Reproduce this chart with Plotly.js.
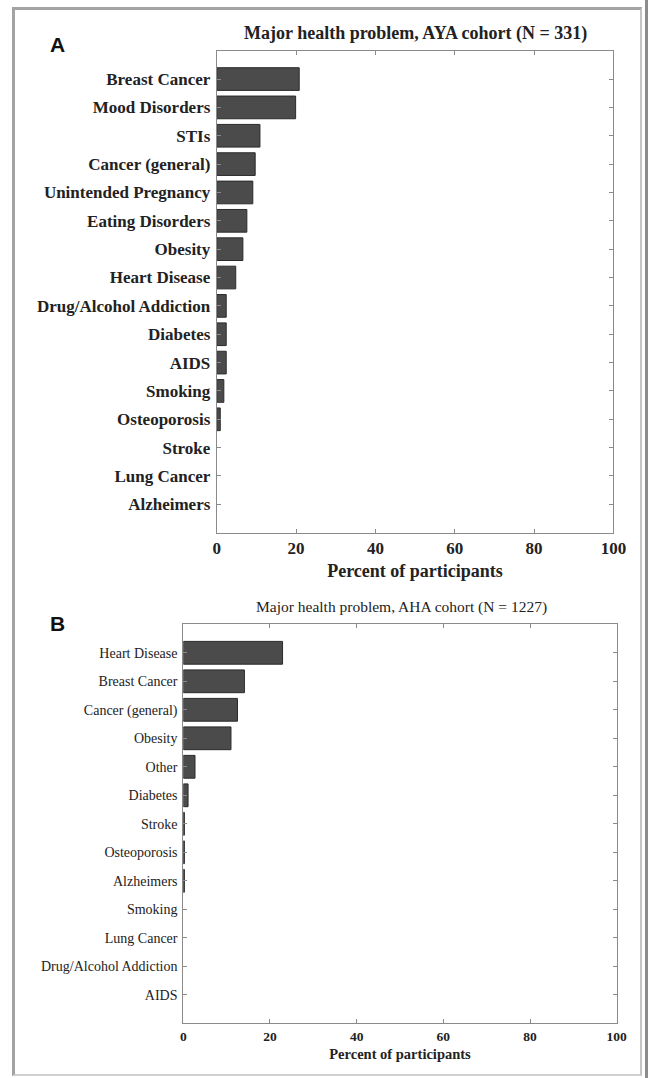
<!DOCTYPE html>
<html>
<head>
<meta charset="utf-8">
<script src="https://cdn.plot.ly/plotly-3.0.1.min.js"></script>
<style>
  html, body { margin: 0; padding: 0; background: #fff; }
  #wrap { position: relative; width: 648px; height: 1078px; overflow: hidden; }
  #chart { position: absolute; left: 0; top: 0; width: 648px; height: 1078px; }
  #frame { position: absolute; left: 12px; top: 7px; width: 630px; height: 1069px;
           border-left: 3px solid #a3a3a3; border-top: 3px solid #a3a3a3;
           border-right: 2px solid #c4c4c4; border-bottom: 2px solid #d0d0d0;
           box-sizing: border-box; pointer-events: none; }
  #edge { position: absolute; left: 645px; top: 0; width: 3px; height: 1078px; background: #8c8c8c; }
</style>
</head>
<body>
<div id="wrap">
  <div id="chart"></div>
  <div id="frame"></div>
  <div id="edge"></div>
</div>
<script>
// Panel A: AYA cohort (N = 331)
const ayaCategories = ["Breast Cancer", "Mood Disorders", "STIs", "Cancer (general)",
  "Unintended Pregnancy", "Eating Disorders", "Obesity", "Heart Disease",
  "Drug/Alcohol Addiction", "Diabetes", "AIDS", "Smoking", "Osteoporosis",
  "Stroke", "Lung Cancer", "Alzheimers"];
const ayaPercent = [20.8, 19.9, 10.9, 9.7, 9.1, 7.6, 6.6, 4.8, 2.4, 2.4, 2.4, 1.8, 0.9, 0, 0, 0];

// Panel B: AHA cohort (N = 1227)
const ahaCategories = ["Heart Disease", "Breast Cancer", "Cancer (general)", "Obesity",
  "Other", "Diabetes", "Stroke", "Osteoporosis", "Alzheimers", "Smoking",
  "Lung Cancer", "Drug/Alcohol Addiction", "AIDS"];
const ahaPercent = [22.9, 14.1, 12.5, 11.0, 2.7, 1.1, 0.25, 0.25, 0.25, 0, 0, 0, 0];

const xTickVals = [0, 20, 40, 60, 80, 100];
const titleA = "Major health problem, AYA cohort (N = 331)";
const titleB = "Major health problem, AHA cohort (N = 1227)";
const xTitle = "Percent of participants";

const W = 648, H = 1078;
const px = v => v / W;
const py = v => 1 - v / H;

const barFill = "#4b4b4b", barEdge = "#2b2b2b";
const serif = "Liberation Serif";
const axisCol = "#8a8a8a";
const edgeWidths = arr => arr.map(v => (v > 0 ? 1 : 0));

const traces = [
  { type: "bar", orientation: "h", x: ayaPercent, y: ayaCategories,
    xaxis: "x", yaxis: "y", width: 0.8,
    marker: { color: barFill, line: { color: barEdge, width: edgeWidths(ayaPercent) } }, hoverinfo: "x+y" },
  { type: "bar", orientation: "h", x: ahaPercent, y: ahaCategories,
    xaxis: "x2", yaxis: "y2", width: 0.8,
    marker: { color: barFill, line: { color: barEdge, width: edgeWidths(ahaPercent) } }, hoverinfo: "x+y" }
];

function xAxis(domain, anchor, fs, tfs, standoff) {
  return { domain: domain, anchor: anchor, range: [0, 100], tickvals: xTickVals,
    ticks: "inside", ticklen: 4, tickcolor: axisCol, showline: true, linecolor: axisCol,
    linewidth: 1, mirror: "ticks", showgrid: false, zeroline: false, fixedrange: true,
    tickfont: { family: serif, size: fs, color: "#222", weight: "bold" },
    title: { text: xTitle, standoff: standoff, font: { family: serif, size: tfs, color: "#222", weight: "bold" } } };
}
function yAxis(domain, anchor, cats, fs, weight) {
  return { domain: domain, anchor: anchor, type: "category", categoryorder: "array",
    categoryarray: cats, range: [cats.length, -1], ticks: "inside", ticklen: 4,
    tickcolor: axisCol, showline: true, linecolor: axisCol, linewidth: 1, mirror: "ticks",
    showgrid: false, zeroline: false, fixedrange: true, ticklabelstandoff: 2,
    tickfont: { family: serif, size: fs, color: "#222", weight: weight } };
}

const layout = {
  width: W, height: H, margin: { l: 0, r: 0, t: 0, b: 0 },
  paper_bgcolor: "#fff", plot_bgcolor: "#fff", showlegend: false, bargap: 0.2,
  xaxis: xAxis([px(216.7), px(613.4)], "y", 17, 18, 7),
  yaxis: yAxis([py(532.7), py(50.7)], "x", ayaCategories, 17, "bold"),
  xaxis2: xAxis([px(183.3), px(616.7)], "y2", 13.5, 14.5, 6),
  yaxis2: yAxis([py(1023.3), py(624.3)], "x2", ahaCategories, 14, "normal"),
  annotations: [
    { text: titleA, xref: "paper", yref: "paper", x: px(415), y: py(33), xanchor: "center",
      yanchor: "middle", showarrow: false, font: { family: serif, size: 18, color: "#222", weight: "bold" } },
    { text: titleB, xref: "paper", yref: "paper", x: px(401), y: py(607), xanchor: "center",
      yanchor: "middle", showarrow: false, font: { family: serif, size: 15.5, color: "#222" } },
    { text: "A", xref: "paper", yref: "paper", x: px(48), y: py(44.5), xanchor: "left",
      yanchor: "middle", showarrow: false, font: { family: "Liberation Sans", size: 21, color: "#111", weight: "bold" } },
    { text: "B", xref: "paper", yref: "paper", x: px(48), y: py(623), xanchor: "left",
      yanchor: "middle", showarrow: false, font: { family: "Liberation Sans", size: 21, color: "#111", weight: "bold" } }
  ]
};

Plotly.newPlot("chart", traces, layout, { displayModeBar: false, staticPlot: true });
</script>
</body>
</html>
